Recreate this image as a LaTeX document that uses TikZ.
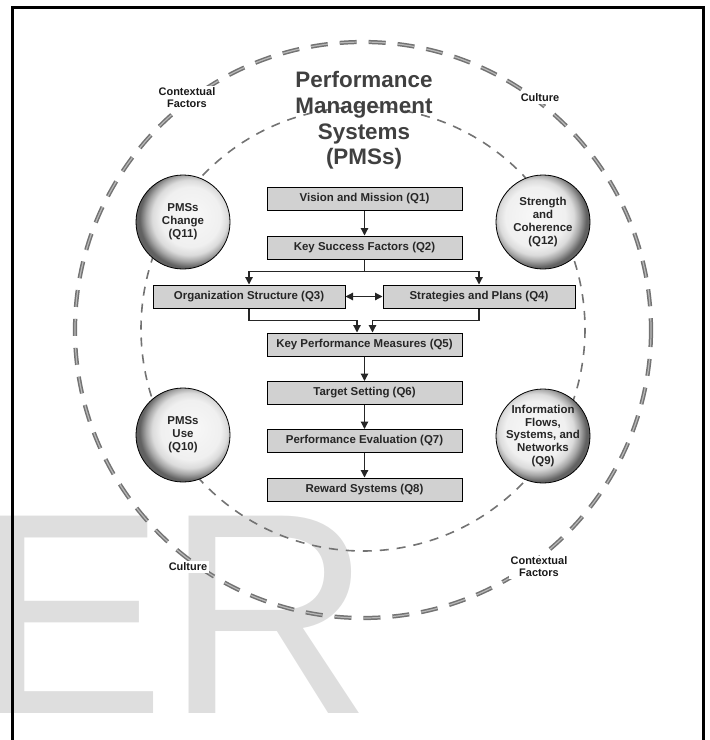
\documentclass[tikz,border=0pt]{standalone}
\usepackage{fontspec}
\setmainfont{Liberation Sans}
\usetikzlibrary{arrows.meta}
\pgfdeclareradialshading{ballleft}{\pgfpoint{6bp}{4bp}}{color(0bp)=(black!3); color(16bp)=(black!6); color(20bp)=(black!14); color(23bp)=(black!35); color(26bp)=(black!62); color(50bp)=(black!62)}
\pgfdeclareradialshading{ballright}{\pgfpoint{-6bp}{4bp}}{color(0bp)=(black!3); color(16bp)=(black!6); color(20bp)=(black!14); color(23bp)=(black!35); color(26bp)=(black!62); color(50bp)=(black!62)}
\begin{document}
\begin{tikzpicture}[x=1bp,y=-1bp,
	qbox/.style={draw,line width=1bp,fill=black!18,minimum width=195bp,minimum height=23bp,inner sep=0pt,font=\fontsize{11.5}{13}\selectfont\bfseries,text=black!85},
	sidebox/.style={qbox,minimum width=192bp},
	ball/.style={circle,draw,line width=0.8bp,minimum size=94bp,inner sep=-8pt,align=center,font=\fontsize{11.5}{12.9}\selectfont\bfseries,text=black!85},
	lbl/.style={fill=white,inner sep=1.5pt,align=center,font=\fontsize{11}{12}\selectfont\bfseries,text=black!90},
	wire/.style={line width=1.2bp,draw=black!85},
	arr/.style={wire,-{Triangle[length=7.5bp,width=7.5bp]}},
	dblarr/.style={wire,{Triangle[length=7.5bp,width=7.5bp]}-{Triangle[length=7.5bp,width=7.5bp]}},
	outerdash/.style={draw=black!55,line width=1.5bp,double=black!28,double distance=1.2bp,dash pattern=on 17bp off 12bp},
	innerdash/.style={draw=black!55,line width=1.6bp,dash pattern=on 9bp off 8bp}]
	\useasboundingbox (0,0) rectangle (710,740);
	\node[anchor=base west,inner sep=0pt,text=black!13,font=\fontsize{288}{288}\selectfont] (mark) at (-26,713) {ER};
	\draw[line width=3bp] (12,760) -- (12,8) -- (703,8) -- (703,760);
	\coordinate (hub) at (363,330);
	\draw[outerdash] (hub) circle (288);
	\draw[innerdash] (363,329) circle (222);
	\node[lbl] (cftl) at (187,97.5) {Contextual\\Factors};
	\node[lbl] (cutr) at (540,98) {Culture};
	\node[lbl] (cubl) at (188,567) {Culture};
	\node[lbl] (cfbr) at (539,567) {Contextual\\Factors};
	\node[align=center,font=\fontsize{22.5}{25.7}\selectfont\bfseries,text=black!75] (pms) at (364,120.5) {Performance\\Management\\Systems\\(PMSs)};
	\node[qbox] (q1) at (364.5,199) {Vision and Mission (Q1)};
	\node[qbox] (q2) at (364.5,247.5) {Key Success Factors (Q2)};
	\node[sidebox] (q3) at (249,296.5) {Organization Structure (Q3)};
	\node[sidebox] (q4) at (479,296.5) {Strategies and Plans (Q4)};
	\node[qbox] (q5) at (364.5,344.5) {Key Performance Measures (Q5)};
	\node[qbox] (q6) at (364.5,393) {Target Setting (Q6)};
	\node[qbox] (q7) at (364.5,441) {Performance Evaluation (Q7)};
	\node[qbox] (q8) at (364.5,489.5) {Reward Systems (Q8)};
	\draw[arr] (q1) -- (q2);
	\draw[wire] (q2.south) -- ++(0,12) coordinate (fork);
	\draw[arr] (fork) -| (q3.north);
	\draw[arr] (fork) -| (q4.north);
	\draw[dblarr] (q3) -- (q4);
	\draw[arr] (q3.south) -- ++(0,12) -| ([xshift=-7.5bp]q5.north);
	\draw[arr] (q4.south) -- ++(0,12) -| ([xshift=8bp]q5.north);
	\draw[arr] (q5) -- (q6);
	\draw[arr] (q6) -- (q7);
	\draw[arr] (q7) -- (q8);
	\node[ball,shade,shading=ballleft] (q11) at (183,222) {PMSs\\Change\\(Q11)};
	\node[ball,shade,shading=ballright] (q12) at (543,222) {Strength\\and\\Coherence\\(Q12)};
	\node[ball,shade,shading=ballleft] (q10) at (183,435) {PMSs\\Use\\(Q10)};
	\node[ball,shade,shading=ballright] (q9) at (543,436) {Information\\Flows,\\Systems, and\\Networks\\(Q9)};
\end{tikzpicture}
\end{document}
